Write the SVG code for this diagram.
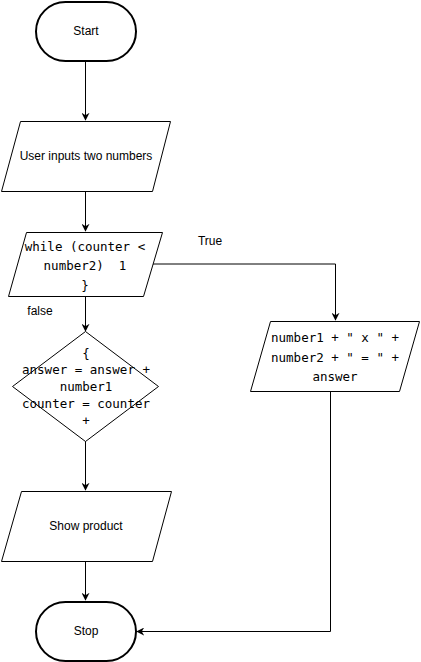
<svg xmlns="http://www.w3.org/2000/svg" width="421" height="662" viewBox="0 0 421 662">
  <style>
    .shape { fill: #ffffff; stroke: #000000; stroke-width: 1; }
    .term { fill: #ffffff; stroke: #000000; stroke-width: 2; }
    .edge { fill: none; stroke: #000000; stroke-width: 1; }
    .lbl { font-family: "Liberation Sans", Arial, sans-serif; font-size: 12px; fill: #000000; text-anchor: middle; dominant-baseline: central; }
    .code { font-family: "DejaVu Sans Mono", monospace; font-size: 12.5px; fill: #000000; text-anchor: middle; dominant-baseline: central; }
  </style>
  <defs>
    <marker id="arrow" viewBox="0 0 10 10" refX="9" refY="5" markerWidth="8" markerHeight="8" markerUnits="userSpaceOnUse" orient="auto">
      <path d="M0,0 L10,5 L0,10 L3,5 Z" fill="#000000"/>
    </marker>
  </defs>

  <!-- connectors -->
  <g id="edges">
    <path class="edge" d="M85.5,62 V120" marker-end="url(#arrow)"/>
    <path class="edge" d="M85.5,191 V231" marker-end="url(#arrow)"/>
    <path class="edge" d="M85.5,296 V331" marker-end="url(#arrow)"/>
    <path class="edge" d="M85.5,441 V490" marker-end="url(#arrow)"/>
    <path class="edge" d="M85.5,561 V600" marker-end="url(#arrow)"/>
    <path class="edge" d="M153,264 H335.5 V320" marker-end="url(#arrow)"/>
    <path class="edge" d="M330.5,391 V631.5 H137" marker-end="url(#arrow)"/>
    <text class="lbl" x="210" y="241">True</text>
    <text class="lbl" x="40" y="311">false</text>
  </g>

  <g id="start">
    <rect class="term" x="36" y="2" width="100" height="59" rx="29.5" ry="29.5"/>
    <text class="lbl" x="86" y="31">Start</text>
  </g>

  <g id="input">
    <polygon class="shape" points="20.5,121.5 170.5,121.5 152.5,191.5 1.5,191.5"/>
    <text class="lbl" x="86" y="156">User inputs two numbers</text>
  </g>

  <g id="loop">
    <polygon class="shape" points="26.5,232.5 162.5,232.5 143.5,296.5 8.5,296.5"/>
    <text class="code" x="85" y="246">while (counter &lt;</text>
    <text class="code" x="85" y="265" xml:space="preserve">number2)  1</text>
    <text class="code" x="85" y="285">}</text>
  </g>

  <g id="body">
    <polygon class="shape" points="85.5,331.5 158.5,386.5 85.5,441.5 12.5,386.5"/>
    <text class="code" x="86" y="353">{</text>
    <text class="code" x="86" y="369">answer = answer +</text>
    <text class="code" x="86" y="386">number1</text>
    <text class="code" x="86" y="403">counter = counter</text>
    <text class="code" x="86" y="420">+</text>
  </g>

  <g id="result">
    <polygon class="shape" points="270.5,321.5 419.5,321.5 399.5,391.5 250.5,391.5"/>
    <text class="code" x="335" y="337">number1 + " x " +</text>
    <text class="code" x="335" y="357">number2 + " = " +</text>
    <text class="code" x="335" y="376">answer</text>
  </g>

  <g id="show">
    <polygon class="shape" points="21.5,491.5 171.5,491.5 152.5,561.5 1.5,561.5"/>
    <text class="lbl" x="86" y="526">Show product</text>
  </g>

  <g id="stop">
    <rect class="term" x="36" y="602" width="100" height="59" rx="29.5" ry="29.5"/>
    <text class="lbl" x="86" y="631">Stop</text>
  </g>
</svg>
